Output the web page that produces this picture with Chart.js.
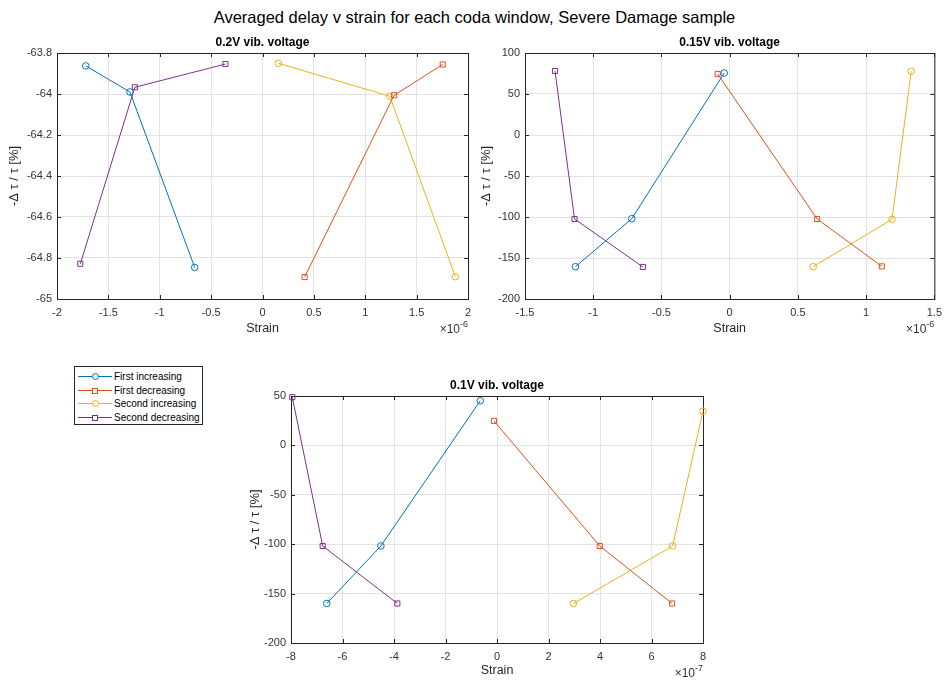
<!DOCTYPE html>
<html>
<head>
<meta charset="utf-8">
<title>Averaged delay v strain</title>
<script src="https://cdn.jsdelivr.net/npm/chart.js@4.4.0/dist/chart.umd.min.js"></script>
<style>
  body { margin: 0; background: #fff; font-family: "Liberation Sans", Arial, sans-serif; }
  #page { position: relative; width: 949px; height: 684px; overflow: hidden; background: #fff; }
  #page canvas { position: absolute; }
  .main-title { position: absolute; left: 0; top: 8px; width: 949px; text-align: center; font-size: 16.5px; color: #000; }
  .legend { position: absolute; left: 74px; top: 366px; width: 127px; height: 57px; border: 1px solid #262626; background: #fff; }
  .legend-row { position: absolute; left: 0; height: 13px; width: 127px; font-size: 10px; color: #000; }
  .legend-line { position: absolute; left: 3px; top: 6px; width: 34px; height: 0; border-top: 1px solid; }
  .legend-mark { position: absolute; box-sizing: border-box; border: 1px solid; background: #fff; }
  .legend-text { position: absolute; left: 39px; top: 0; line-height: 13px; white-space: nowrap; }
</style>
</head>
<body>
<div id="page">
  <div class="main-title">Averaged delay v strain for each coda window, Severe Damage sample</div>
  <canvas id="chart02" width="480" height="312" style="left:0px;top:30px"></canvas>
  <canvas id="chart015" width="479" height="312" style="left:470px;top:30px"></canvas>
  <canvas id="chart01" width="490" height="324" style="left:230px;top:360px"></canvas>
  <div class="legend" id="legend"></div>
</div>
<script>
// series names / colours (MATLAB default order)
const seriesNames = ['First increasing', 'First decreasing', 'Second increasing', 'Second decreasing'];
const seriesColors = ['#0072BD', '#D95319', '#EDB120', '#7E2F8E'];
const seriesMarkers = ['circle', 'rect', 'circle', 'rect'];

// 0.2V vib. voltage  (strain x 1e-6, delay in %)
const strain02FirstInc = [-1.72, -1.29, -0.66];
const delay02FirstInc = [-63.863, -63.99, -64.846];
const strain02FirstDec = [1.754, 1.281, 0.41];
const delay02FirstDec = [-63.856, -64.006, -64.893];
const strain02SecondInc = [0.154, 1.239, 1.877];
const delay02SecondInc = [-63.85, -64.011, -64.891];
const strain02SecondDec = [-0.361, -1.242, -1.773];
const delay02SecondDec = [-63.854, -63.967, -64.828];

// 0.15V vib. voltage  (strain x 1e-6)
const strain015FirstInc = [-1.13, -0.717, -0.04];
const delay015FirstInc = [-160.6, -102, 75.6];
const strain015FirstDec = [-0.088, 0.641, 1.115];
const delay015FirstDec = [74.4, -102.4, -160.2];
const strain015SecondInc = [0.612, 1.19, 1.33];
const delay015SecondInc = [-160.6, -102.8, 77.6];
const strain015SecondDec = [-1.28, -1.137, -0.636];
const delay015SecondDec = [78, -102.4, -160.9];

// 0.1V vib. voltage  (strain x 1e-7)
const strain01FirstInc = [-6.61, -4.51, -0.65];
const delay01FirstInc = [-160, -101.8, 45.2];
const strain01FirstDec = [-0.12, 3.99, 6.8];
const delay01FirstDec = [24.8, -101.8, -160];
const strain01SecondInc = [2.97, 6.82, 8.0];
const delay01SecondInc = [-160, -101.8, 34.6];
const strain01SecondDec = [-7.95, -6.77, -3.87];
const delay01SecondDec = [48.8, -101.8, -160];

// axis limits / tick steps
const xLim02 = [-2, 2], xStep02 = 0.5, yLim02 = [-65, -63.8], yStep02 = 0.2;
const xLim015 = [-1.5, 1.5], xStep015 = 0.5, yLim015 = [-200, 100], yStep015 = 50;
const xLim01 = [-8, 8], xStep01 = 2, yLim01 = [-200, 50], yStep01 = 50;

Chart.defaults.font.family = '"Liberation Sans", Arial, sans-serif';

// matlab style tick text: no trailing zeros
const shortTick = (v) => String(parseFloat(Number(v).toFixed(4)));

// box, inner ticks, subplot title and the x10^n label
const matlabAxes = {
  id: 'matlabAxes',
  beforeDatasetsDraw(chart) {
    const { ctx, chartArea: a, scales: { x, y } } = chart;
    ctx.save();
    ctx.strokeStyle = '#262626';
    ctx.lineWidth = 1;
    ctx.beginPath();
    x.ticks.forEach((t) => {
      const px = Math.round(x.getPixelForValue(t.value)) + 0.5;
      ctx.moveTo(px, a.bottom); ctx.lineTo(px, a.bottom - 4);
      ctx.moveTo(px, a.top); ctx.lineTo(px, a.top + 4);
    });
    y.ticks.forEach((t) => {
      const py = Math.round(y.getPixelForValue(t.value)) + 0.5;
      ctx.moveTo(a.left, py); ctx.lineTo(a.left + 4, py);
      ctx.moveTo(a.right, py); ctx.lineTo(a.right - 4, py);
    });
    ctx.stroke();
    ctx.strokeRect(a.left + 0.5, a.top + 0.5, a.right - a.left, a.bottom - a.top);
    ctx.restore();
  },
  afterDraw(chart, args, opts) {
    const { ctx, chartArea: a } = chart;
    ctx.save();
    ctx.fillStyle = '#000';
    ctx.font = 'bold 12px "Liberation Sans", Arial, sans-serif';
    ctx.textAlign = 'center';
    ctx.textBaseline = 'middle';
    ctx.fillText(opts.title, (a.left + a.right) / 2, a.top - 10);

    // exponent label, right aligned to the axes
    ctx.fillStyle = '#333';
    ctx.textAlign = 'right';
    ctx.font = '9px "Liberation Sans", Arial, sans-serif';
    const supW = ctx.measureText(opts.exp).width;
    ctx.fillText(opts.exp, a.right, a.bottom + opts.expDy - 5);
    ctx.font = '12px "Liberation Sans", Arial, sans-serif';
    ctx.fillText('\u00d710', a.right - supW, a.bottom + opts.expDy);
    ctx.restore();
  },
};

function buildDatasets(strains, delays) {
  return strains.map((xs, i) => ({
    label: seriesNames[i],
    data: xs.map((x, j) => ({ x, y: delays[i][j] })),
    showLine: true,
    borderColor: seriesColors[i],
    borderWidth: 1,
    tension: 0,
    fill: false,
    pointStyle: seriesMarkers[i],
    pointRadius: seriesMarkers[i] === 'rect' ? 3.6 : 3.3,
    pointBorderColor: seriesColors[i],
    pointBackgroundColor: 'rgba(255,255,255,0)',
    pointBorderWidth: 1,
    clip: false,
  }));
}

function makeChart(id, canvasBox, plot, title, exp, xLim, xStep, yLim, yStep, datasets, yTitlePad) {
  const canvas = document.getElementById(id);
  return new Chart(canvas, {
    type: 'scatter',
    data: { datasets },
    options: {
      responsive: false,
      animation: false,
      devicePixelRatio: 1,
      events: [],
      layout: {
        padding: {
          left: 0,
          top: plot.top - canvasBox.top,
          right: canvasBox.left + canvasBox.width - plot.right,
          bottom: 0,
        },
      },
      plugins: {
        legend: { display: false },
        tooltip: { enabled: false },
        matlabAxes: { title, exp, expDy: 31 },
      },
      scales: {
        x: {
          type: 'linear',
          min: xLim[0],
          max: xLim[1],
          afterFit: (s) => { s.height = canvasBox.top + canvasBox.height - plot.bottom; },
          ticks: { stepSize: xStep, padding: 7, color: '#333', font: { size: 11 }, autoSkip: false, maxRotation: 0, callback: shortTick },
          grid: { color: '#e3e3e3', drawTicks: false },
          border: { display: false },
          title: { display: true, text: 'Strain', color: '#262626', font: { size: 12.5 }, padding: { top: 0, bottom: 6 } },
        },
        y: {
          type: 'linear',
          min: yLim[0],
          max: yLim[1],
          afterFit: (s) => { s.width = plot.left - canvasBox.left; },
          ticks: { stepSize: yStep, padding: 5, color: '#333', font: { size: 11 }, autoSkip: false, callback: shortTick },
          grid: { color: '#e3e3e3', drawTicks: false },
          border: { display: false },
          title: { display: true, text: '-\u0394 \u03c4 / \u03c4 [%]', color: '#262626', font: { size: 13 }, padding: { top: yTitlePad, bottom: 0 } },
        },
      },
    },
    plugins: [matlabAxes],
  });
}

makeChart('chart02',
  { left: 0, top: 30, width: 480, height: 312 },
  { left: 57, top: 53, right: 468, bottom: 299 },
  '0.2V vib. voltage', '-6', xLim02, xStep02, yLim02, yStep02,
  buildDatasets(
    [strain02FirstInc, strain02FirstDec, strain02SecondInc, strain02SecondDec],
    [delay02FirstInc, delay02FirstDec, delay02SecondInc, delay02SecondDec]),
  7);

makeChart('chart015',
  { left: 470, top: 30, width: 479, height: 312 },
  { left: 525, top: 53, right: 936, bottom: 299 },
  '0.15V vib. voltage', '-6', xLim015, xStep015, yLim015, yStep015,
  buildDatasets(
    [strain015FirstInc, strain015FirstDec, strain015SecondInc, strain015SecondDec],
    [delay015FirstInc, delay015FirstDec, delay015SecondInc, delay015SecondDec]),
  9);

makeChart('chart01',
  { left: 230, top: 360, width: 490, height: 324 },
  { left: 291, top: 396, right: 703, bottom: 643 },
  '0.1V vib. voltage', '-7', xLim01, xStep01, yLim01, yStep01,
  buildDatasets(
    [strain01FirstInc, strain01FirstDec, strain01SecondInc, strain01SecondDec],
    [delay01FirstInc, delay01FirstDec, delay01SecondInc, delay01SecondDec]),
  18);

// legend box
const legend = document.getElementById('legend');
seriesNames.forEach((name, i) => {
  const row = document.createElement('div');
  row.className = 'legend-row';
  row.style.top = (3 + i * 13.5) + 'px';
  const line = document.createElement('span');
  line.className = 'legend-line';
  line.style.borderColor = seriesColors[i];
  const mark = document.createElement('span');
  mark.className = 'legend-mark';
  mark.style.borderColor = seriesColors[i];
  if (seriesMarkers[i] === 'circle') {
    mark.style.width = '7px'; mark.style.height = '7px'; mark.style.borderRadius = '50%';
    mark.style.left = '17px'; mark.style.top = '3px';
  } else {
    mark.style.width = '6px'; mark.style.height = '6px';
    mark.style.left = '17px'; mark.style.top = '4px';
  }
  const text = document.createElement('span');
  text.className = 'legend-text';
  text.textContent = name;
  row.appendChild(line);
  row.appendChild(mark);
  row.appendChild(text);
  legend.appendChild(row);
});
</script>
</body>
</html>
